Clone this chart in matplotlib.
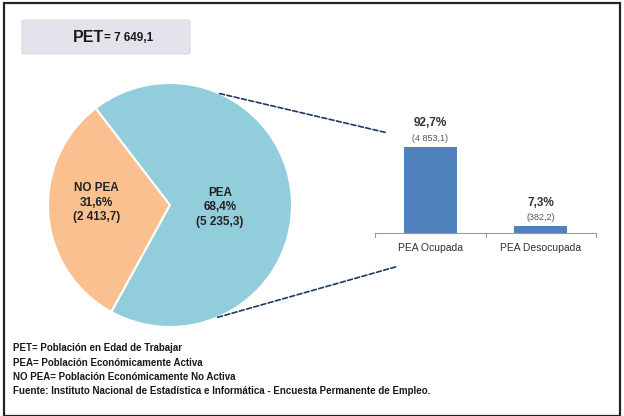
import numpy as np
import matplotlib.pyplot as plt
from matplotlib.patches import FancyBboxPatch, Rectangle, ConnectionPatch

plt.rcParams['font.family'] = ['Liberation Sans Narrow', 'Liberation Sans', 'DejaVu Sans']

# data
pet_total = "7 649,1"
pie_labels = ["NO PEA", "PEA"]
pie_pct = [31.6, 68.4]
pie_vals = ["2 413,7", "5 235,3"]
bar_labels = ["PEA Ocupada", "PEA Desocupada"]
bar_pct = [92.7, 7.3]
bar_vals = ["4 853,1", "382,2"]
notes = [
    "PET= Población en Edad de Trabajar",
    "PEA= Población Económicamente Activa",
    "NO PEA= Población Económicamente No Activa",
    "Fuente: Instituto Nacional de Estadística e Informática - Encuesta Permanente de Empleo.",
]

W, H = 624, 416
fig = plt.figure(figsize=(W / 100, H / 100), dpi=100)

def px_axes(x0, y0, x1, y1):
    # pixel box (top-left origin) -> axes
    return fig.add_axes([x0 / W, 1 - y1 / H, (x1 - x0) / W, (y1 - y0) / H])

# frame around the picture
fig.patches.append(Rectangle((4 / W, 0), 616 / W, 1 - 3 / H, transform=fig.transFigure,
                             fill=False, edgecolor='#222222', linewidth=1.6))

# PET box
fig.patches.append(FancyBboxPatch((22 / W, 1 - 54 / H), 168 / W, 34 / H,
                                  boxstyle="round,pad=0,rounding_size=0.004",
                                  transform=fig.transFigure, facecolor='#E4E2EA',
                                  edgecolor='#D8D6DE', linewidth=0.8))
fig.text(104 / W, 1 - 37 / H, "PET", ha='right', va='center', fontsize=11.5,
         fontweight='bold', color='#1a1a1a')
fig.text(104 / W, 1 - 38 / H, "= " + pet_total, ha='left', va='center', fontsize=8.5,
         fontweight='bold', color='#1a1a1a')

# pie
axp = px_axes(48, 83, 292, 327)
wedges, _ = axp.pie(pie_pct, colors=['#FAC090', '#92CDDC'], startangle=127.5,
                    wedgeprops=dict(edgecolor='white', linewidth=1.5))
axp.set_xlim(-1, 1)
axp.set_ylim(-1, 1)
axp.set_aspect('equal')
axp.axis('off')
axp.text(-0.6, 0.02, f"{pie_labels[0]}\n{pie_pct[0]:.1f}%\n({pie_vals[0]})".replace('.', ','),
         ha='center', va='center', fontsize=8.5, fontweight='bold', color='#222222',
         linespacing=1.3)
axp.text(0.41, -0.02, f"{pie_labels[1]}\n{pie_pct[1]:.1f}%\n({pie_vals[1]})".replace('.', ','),
         ha='center', va='center', fontsize=8.5, fontweight='bold', color='#222222',
         linespacing=1.3)

# bars
axb = px_axes(375, 140, 596, 233)
x = np.arange(len(bar_pct))
axb.bar(x, bar_pct, width=0.48, color='#4F81BD')
axb.set_xlim(-0.5, 1.5)
axb.set_ylim(0, 100)
for i in x:
    axb.text(i, bar_pct[i] + 19, f"{bar_pct[i]:.1f}%".replace('.', ','), ha='center',
             va='bottom', fontsize=8.5, fontweight='bold', color='#333333')
    axb.text(i, bar_pct[i] + 4, f"({bar_vals[i]})", ha='center', va='bottom',
             fontsize=6.5, color='#555555')
for s in ['top', 'right', 'left']:
    axb.spines[s].set_visible(False)
axb.spines['bottom'].set_color('#9a9a9a')
axb.set_yticks([])
axb.set_xticks(x)
axb.set_xticklabels(bar_labels, fontsize=7.5, color='#333333')
axb.tick_params(axis='x', length=0, pad=7)
for t in [-0.5, 0.5, 1.5]:
    axb.plot([t, t], [0, -4], color='#9a9a9a', lw=0.8, clip_on=False)

# connectors from pie to bars
for ang, xy_b in [(66, (0.05, 1.08)), (-67, (0.10, -0.36))]:
    a = np.deg2rad(ang)
    con = ConnectionPatch(xyA=(np.cos(a), np.sin(a)), coordsA=axp.transData,
                          xyB=xy_b, coordsB=axb.transAxes,
                          linestyle=(0, (3, 1.5)), color='#1F3864', linewidth=1.2)
    fig.add_artist(con)

# notes
for k, t in enumerate(notes):
    fig.text(13 / W, 1 - (348 + k * 14.5) / H, t, ha='left', va='center', fontsize=7,
             fontweight='bold', color='#1a1a1a')

fig.savefig('out.png', dpi=100)
